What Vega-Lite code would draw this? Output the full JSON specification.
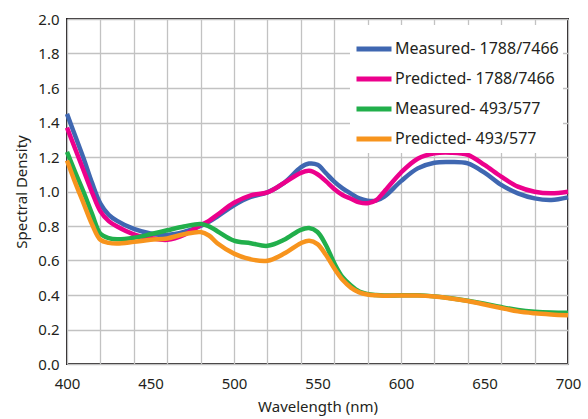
{
  "$schema": "https://vega.github.io/schema/vega-lite/v6.json",
  "width": 501,
  "height": 345,
  "autosize": {"type": "none"},
  "padding": {"left": 67, "top": 19, "right": 20, "bottom": 55},
  "background": "white",
  "config": {
    "view": {"stroke": "#231f20", "strokeWidth": 2},
    "font": "Noto Sans"
  },
  "data": {
    "values": [
      {"nm": 400, "m1": 1.45, "p1": 1.37, "m2": 1.23, "p2": 1.18},
      {"nm": 405, "m1": 1.32, "p1": 1.245, "m2": 1.11, "p2": 1.05},
      {"nm": 410, "m1": 1.19, "p1": 1.12, "m2": 0.995, "p2": 0.93},
      {"nm": 415, "m1": 1.05, "p1": 0.995, "m2": 0.87, "p2": 0.81},
      {"nm": 420, "m1": 0.93, "p1": 0.885, "m2": 0.755, "p2": 0.72},
      {"nm": 425, "m1": 0.865, "p1": 0.828, "m2": 0.73, "p2": 0.702},
      {"nm": 430, "m1": 0.83, "p1": 0.797, "m2": 0.723, "p2": 0.698},
      {"nm": 440, "m1": 0.783, "p1": 0.752, "m2": 0.732, "p2": 0.708},
      {"nm": 450, "m1": 0.757, "p1": 0.73, "m2": 0.752, "p2": 0.72},
      {"nm": 460, "m1": 0.748, "p1": 0.72, "m2": 0.775, "p2": 0.728},
      {"nm": 470, "m1": 0.765, "p1": 0.748, "m2": 0.797, "p2": 0.752},
      {"nm": 480, "m1": 0.8, "p1": 0.805, "m2": 0.812, "p2": 0.765},
      {"nm": 485, "m1": 0.825, "p1": 0.83, "m2": 0.798, "p2": 0.745},
      {"nm": 490, "m1": 0.855, "p1": 0.865, "m2": 0.77, "p2": 0.7},
      {"nm": 500, "m1": 0.92, "p1": 0.935, "m2": 0.715, "p2": 0.64},
      {"nm": 510, "m1": 0.968, "p1": 0.978, "m2": 0.7, "p2": 0.607},
      {"nm": 520, "m1": 0.995, "p1": 0.995, "m2": 0.685, "p2": 0.598},
      {"nm": 530, "m1": 1.05, "p1": 1.05, "m2": 0.72, "p2": 0.64},
      {"nm": 540, "m1": 1.14, "p1": 1.108, "m2": 0.778, "p2": 0.7},
      {"nm": 545, "m1": 1.162, "p1": 1.12, "m2": 0.788, "p2": 0.715},
      {"nm": 550, "m1": 1.155, "p1": 1.1, "m2": 0.765, "p2": 0.695},
      {"nm": 555, "m1": 1.107, "p1": 1.06, "m2": 0.69, "p2": 0.633},
      {"nm": 560, "m1": 1.057, "p1": 1.015, "m2": 0.585, "p2": 0.555},
      {"nm": 565, "m1": 1.018, "p1": 0.98, "m2": 0.503, "p2": 0.488},
      {"nm": 570, "m1": 0.988, "p1": 0.958, "m2": 0.455, "p2": 0.443},
      {"nm": 575, "m1": 0.96, "p1": 0.937, "m2": 0.42, "p2": 0.415},
      {"nm": 580, "m1": 0.947, "p1": 0.932, "m2": 0.406, "p2": 0.403},
      {"nm": 585, "m1": 0.947, "p1": 0.948, "m2": 0.4, "p2": 0.398},
      {"nm": 590, "m1": 0.97, "p1": 1.0, "m2": 0.397, "p2": 0.396},
      {"nm": 600, "m1": 1.06, "p1": 1.11, "m2": 0.398, "p2": 0.397},
      {"nm": 610, "m1": 1.134, "p1": 1.19, "m2": 0.398, "p2": 0.397},
      {"nm": 620, "m1": 1.167, "p1": 1.221, "m2": 0.392, "p2": 0.391},
      {"nm": 630, "m1": 1.171, "p1": 1.225, "m2": 0.381, "p2": 0.38},
      {"nm": 640, "m1": 1.163, "p1": 1.212, "m2": 0.367, "p2": 0.365},
      {"nm": 650, "m1": 1.109, "p1": 1.154, "m2": 0.35, "p2": 0.345},
      {"nm": 660, "m1": 1.038, "p1": 1.086, "m2": 0.33, "p2": 0.325},
      {"nm": 670, "m1": 0.989, "p1": 1.028, "m2": 0.313, "p2": 0.305},
      {"nm": 680, "m1": 0.96, "p1": 0.999, "m2": 0.303, "p2": 0.294},
      {"nm": 690, "m1": 0.951, "p1": 0.99, "m2": 0.298, "p2": 0.287},
      {"nm": 700, "m1": 0.966, "p1": 0.999, "m2": 0.297, "p2": 0.282}
    ]
  },
  "transform": [
    {"fold": ["m1", "p1", "m2", "p2"], "as": ["series", "value"]}
  ],
  "mark": {"type": "line", "strokeWidth": 4.5, "interpolate": "catmull-rom"},
  "encoding": {
    "x": {
      "field": "nm",
      "type": "quantitative",
      "scale": {"domain": [400, 700], "nice": false, "zero": false},
      "axis": {
        "values": [400, 410, 420, 430, 440, 450, 460, 470, 480, 490, 500, 510, 520, 530, 540, 550, 560, 570, 580, 590, 600, 610, 620, 630, 640, 650, 660, 670, 680, 690, 700],
        "labelExpr": "datum.value % 50 === 0 ? datum.label : ''",
        "gridOpacity": {"condition": {"test": "datum.value % 20 === 0", "value": 1}, "value": 0},
        "gridColor": "#c2c2c2",
        "gridWidth": 1.3,
        "ticks": false,
        "domain": false,
        "labelOverlap": false,
        "labelFlush": false,
        "labelFontSize": 15,
        "labelColor": "#231f20",
        "labelPadding": 12,
        "title": "Wavelength (nm)",
        "titleFontSize": 15,
        "titleFontWeight": "normal",
        "titleColor": "#231f20",
        "titlePadding": 8
      }
    },
    "y": {
      "field": "value",
      "type": "quantitative",
      "scale": {"domain": [0, 2], "nice": false},
      "axis": {
        "values": [0, 0.2, 0.4, 0.6, 0.8, 1.0, 1.2, 1.4, 1.6, 1.8, 2.0],
        "format": ".1f",
        "gridColor": "#c2c2c2",
        "gridWidth": 1.3,
        "ticks": false,
        "domain": false,
        "labelFontSize": 15,
        "labelColor": "#231f20",
        "labelPadding": 8,
        "labelFlush": false,
        "title": "Spectral Density",
        "titleFontSize": 15,
        "titleFontWeight": "normal",
        "titleColor": "#231f20",
        "titlePadding": 8
      }
    },
    "color": {
      "field": "series",
      "type": "nominal",
      "sort": ["m1", "p1", "m2", "p2"],
      "scale": {
        "domain": ["m1", "p1", "m2", "p2"],
        "range": ["#3f67b1", "#ec008c", "#21af4b", "#f7941d"]
      },
      "legend": {
        "title": null,
        "orient": "none",
        "legendX": 283,
        "legendY": 6,
        "fillColor": "white",
        "padding": 4,
        "symbolType": "stroke",
        "symbolSize": 1225,
        "symbolStrokeWidth": 5,
        "labelFontSize": 16,
        "labelColor": "#231f20",
        "labelOffset": 1,
        "rowPadding": 0,
        "labelLimit": 300,
        "labelExpr": "{'m1': 'Measured- 1788/7466', 'p1': 'Predicted- 1788/7466', 'm2': 'Measured- 493/577', 'p2': 'Predicted- 493/577'}[datum.value]"
      }
    }
  }
}
